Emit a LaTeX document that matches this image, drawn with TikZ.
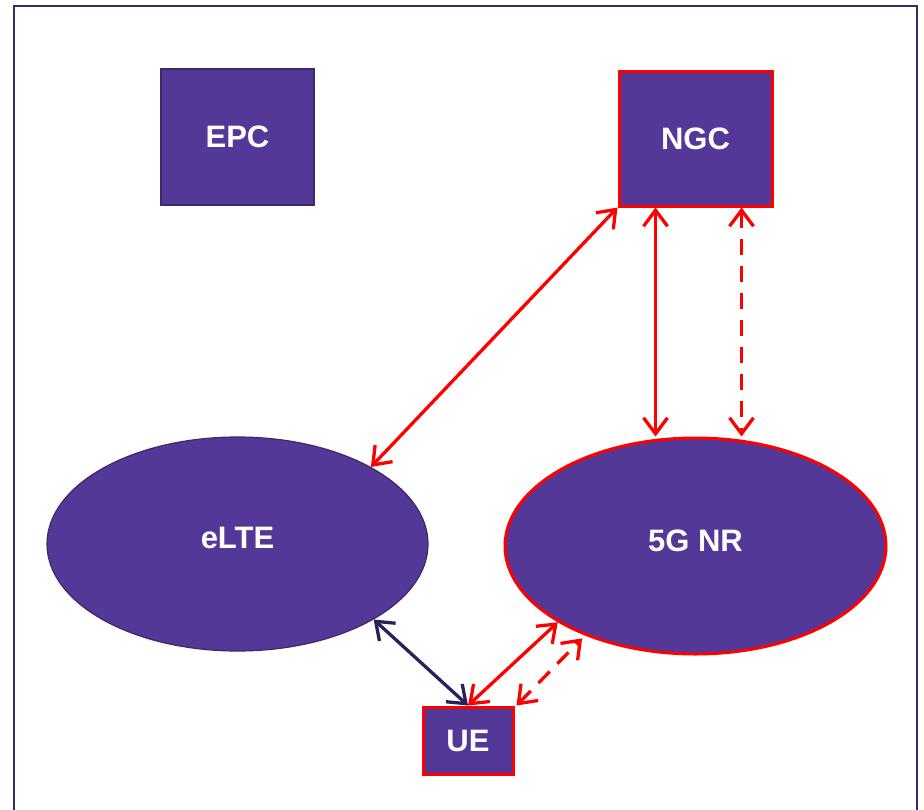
\documentclass[tikz,border=0pt]{standalone}
\usepackage{fontspec}
\setmainfont{Liberation Sans}
\usetikzlibrary{shapes.geometric,arrows.meta,calc}
\definecolor{boxfill}{RGB}{84,56,152}
\definecolor{edgedark}{RGB}{58,42,106}
\definecolor{linkdark}{RGB}{43,31,92}
\definecolor{linkred}{RGB}{255,0,0}
\begin{document}
\begin{tikzpicture}[x=1pt,y=-1pt,
  label/.style={text=white,font=\bfseries\fontsize{31}{34}\selectfont},
  plainbox/.style={label,draw=edgedark,line width=1.2pt,fill=boxfill,inner sep=0pt},
  redbox/.style={label,draw=linkred,line width=3pt,fill=boxfill,inner sep=0pt},
  plainoval/.style={label,ellipse,draw=edgedark,line width=1.2pt,fill=boxfill,inner sep=0pt},
  redoval/.style={label,ellipse,draw=linkred,line width=3pt,fill=boxfill,inner sep=0pt},
  link/.style={line width=3.3pt,{Straight Barb[length=16pt,width=24pt]}-{Straight Barb[length=16pt,width=24pt]}},
  redlink/.style={link,draw=linkred},
  darklink/.style={link,draw=linkdark},
  dashedlink/.style={redlink,dash pattern=on 16pt off 11pt}]
\useasboundingbox (0,0) rectangle (924,809);
% outer frame, open at the bottom edge
\begin{scope}
\clip (0,0) rectangle (924,809);
\draw[edgedark,line width=2.2pt] (14,6) rectangle (917,840);
\end{scope}
% network elements
\node[plainbox,minimum width=153pt,minimum height=136pt] (epc) at (237.5,137) {EPC};
\node[redbox,minimum width=153pt,minimum height=135pt] (ngc) at (695.5,138.5) {NGC};
\node[plainoval,minimum width=381pt,minimum height=214pt] (elte) at (237.5,544) {};
\node[label] (eltelbl) at (237.5,538) {eLTE};
\node[redoval,minimum width=381pt,minimum height=216pt] (nr) at (695.5,546) {};
\node[label] (nrlbl) at (695.5,541) {5G NR};
\node[redbox,minimum width=90pt,minimum height=67pt] (ue) at (468,740.5) {UE};
% interfaces
\coordinate (ngcA) at ([xshift=-40pt]ngc.south);
\coordinate (ngcB) at ([xshift=46pt]ngc.south);
\draw[redlink] (ngc.south west) -- (elte.30);
\draw[redlink] (ngcA) -- (ngcA |- nr.north);
\draw[dashedlink] (ngcB) -- (ngcB |- nr.north);
\draw[darklink] (elte.-29) -- (ue.north);
\draw[redlink] (ue.north) -- (nr.209);
\draw[dashedlink,shorten >=4pt] ([xshift=2pt]ue.north east) -- (nr.219);
\end{tikzpicture}
\end{document}
